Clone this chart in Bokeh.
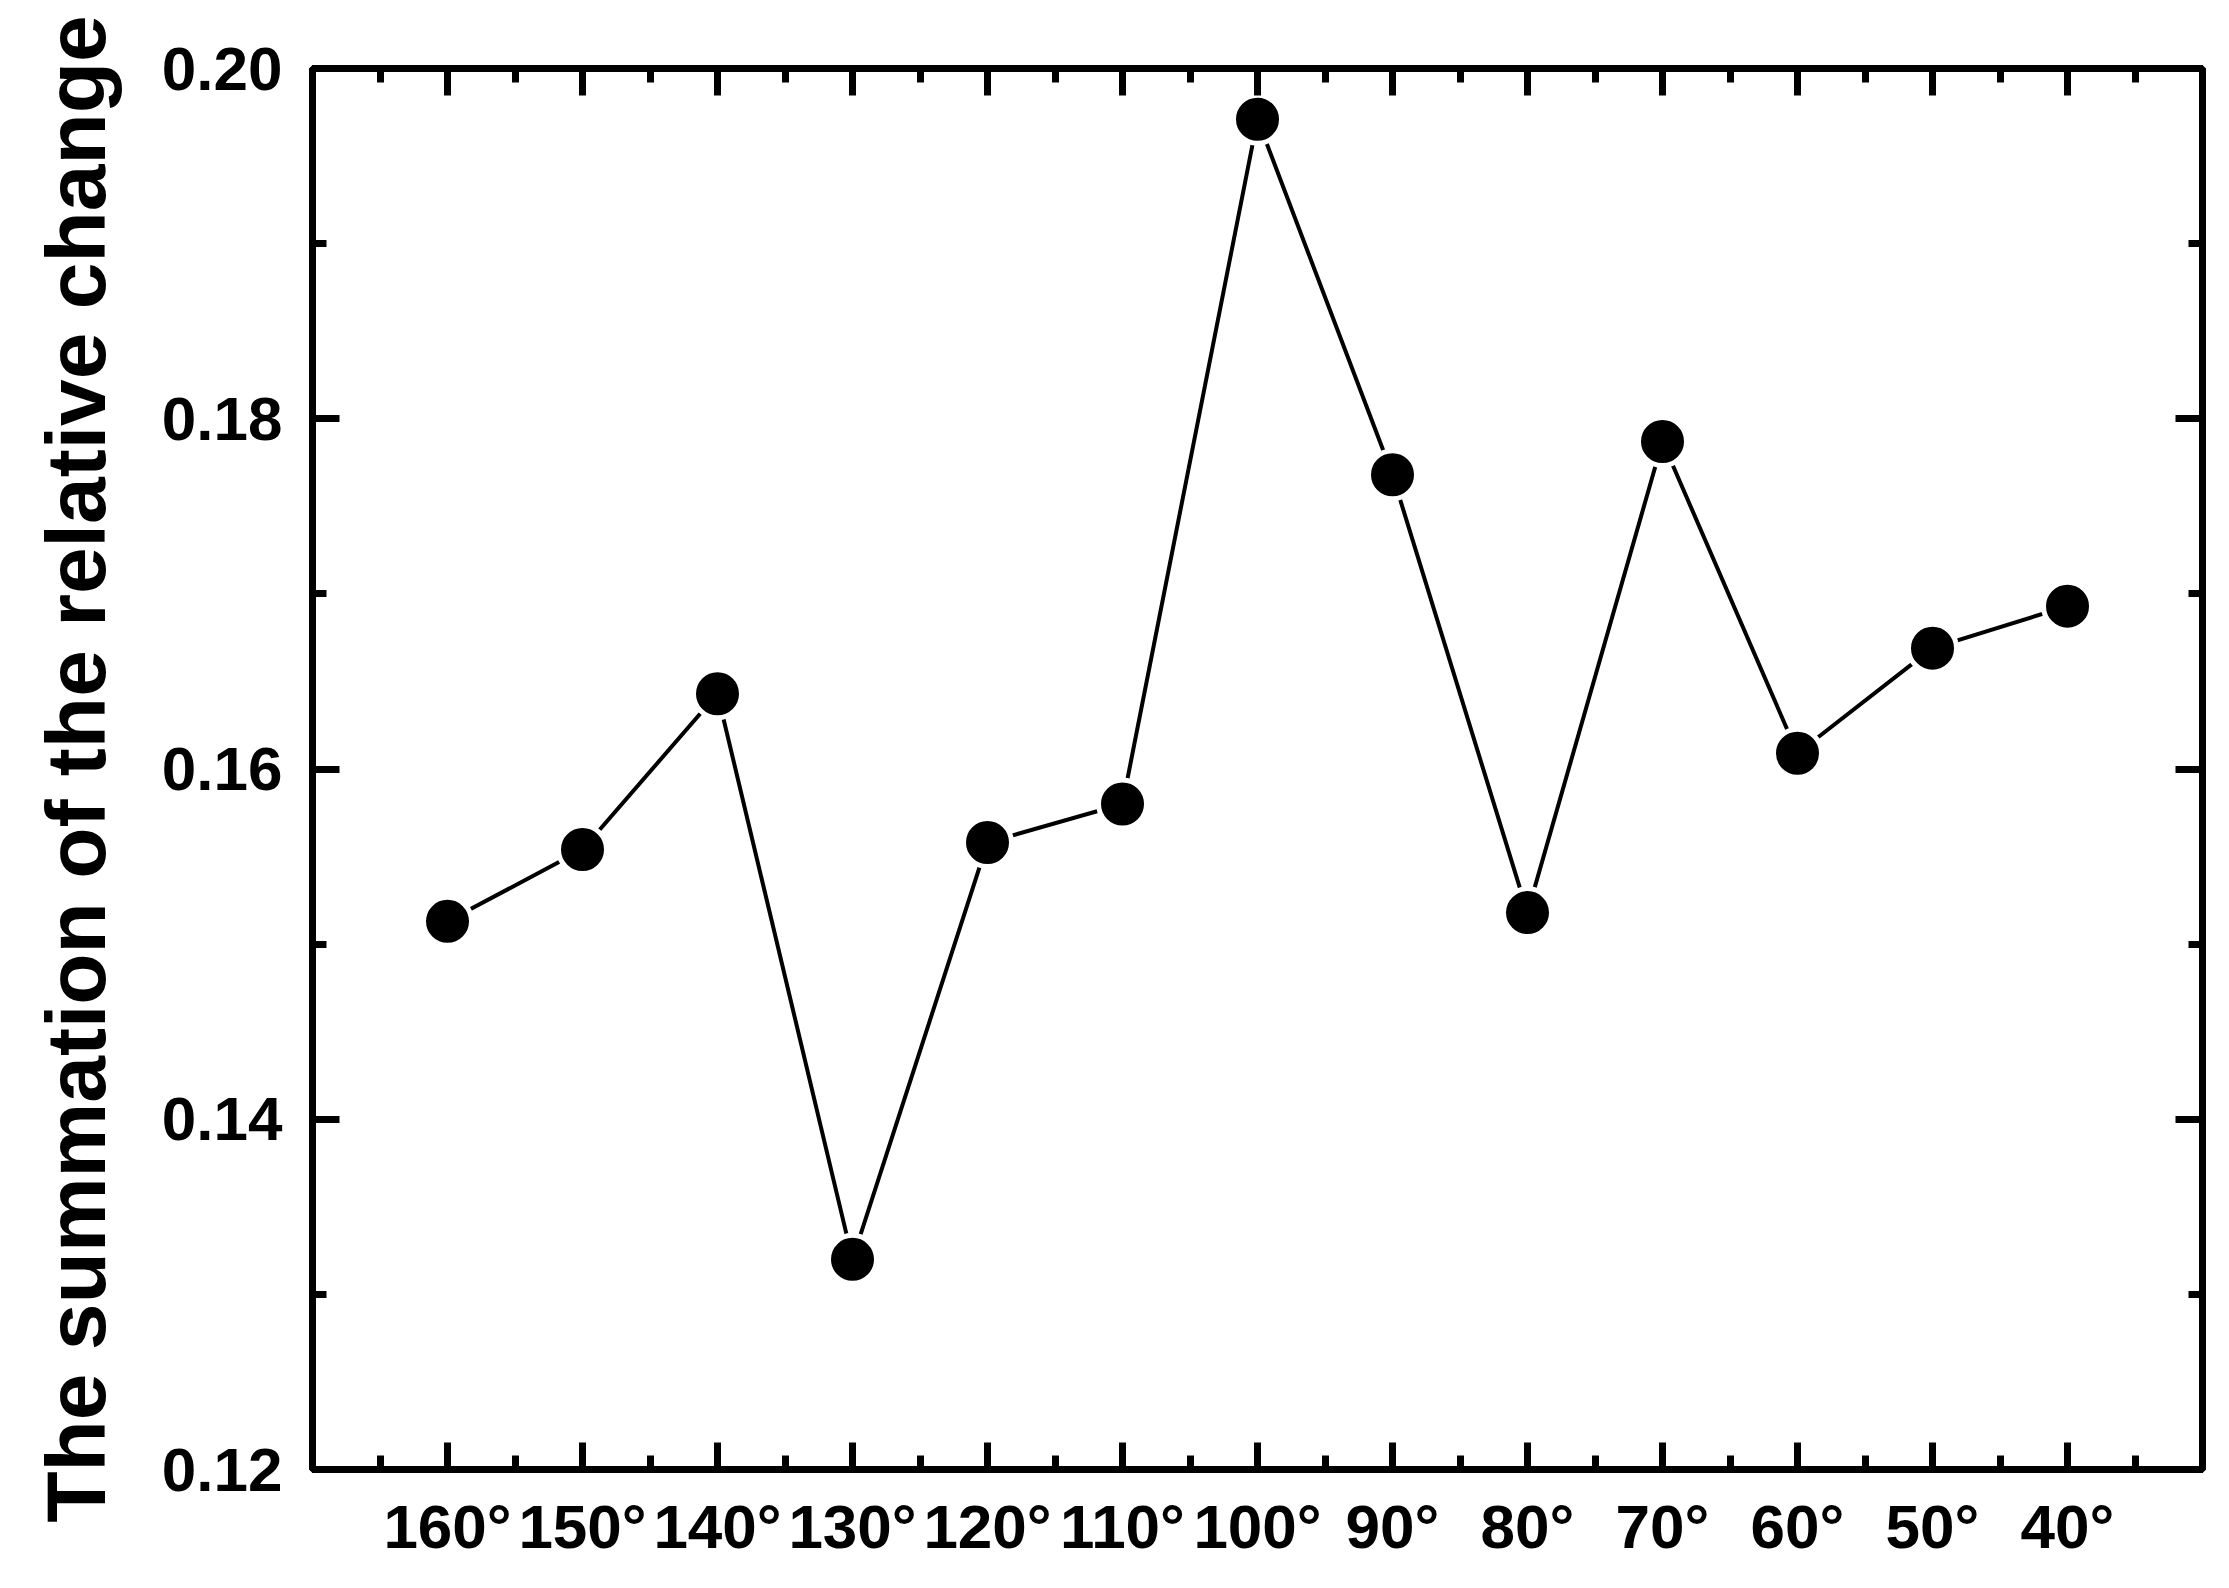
from bokeh.plotting import figure
from bokeh.models import FixedTicker, LinearAxis, Range1d, CustomJSTickFormatter, ColumnDataSource
from bokeh.embed import file_html
from bokeh.resources import INLINE

# Data
angles = ["160°", "150°", "140°", "130°", "120°", "110°", "100°", "90°", "80°", "70°", "60°", "50°", "40°"]
values = [0.1513, 0.1554, 0.1643, 0.1320, 0.1558, 0.1580, 0.1971, 0.1768, 0.1518, 0.1787, 0.1609, 0.1669, 0.1693]
y_major = [0.12, 0.14, 0.16, 0.18, 0.20]
y_minor = [0.13, 0.15, 0.17, 0.19]
y_title = "The summation of the relative change"

xpos = list(range(len(angles)))
x_minor = [i - 0.5 for i in range(len(angles) + 1)]

FONT = "Liberation Sans"
LW = 7

p = figure(width=2216, height=1572, output_backend="svg", toolbar_location=None,
           x_range=Range1d(-1, len(angles)), y_range=Range1d(0.12, 0.20),
           min_border_left=312, min_border_right=14, min_border_top=68, min_border_bottom=103,
           background_fill_color="white", border_fill_color="white")
p.grid.visible = False
p.outline_line_color = "black"
p.outline_line_width = LW

src = ColumnDataSource(dict(x=xpos, y=values))
p.line("x", "y", source=src, line_color="black", line_width=4)
p.scatter("x", "y", source=src, size=48, fill_color="black", line_color="white", line_width=5)

def style(ax, labels=True):
    ax.axis_line_width = LW
    ax.axis_line_color = "black"
    ax.major_tick_line_width = LW
    ax.minor_tick_line_width = LW
    ax.major_tick_in = 27
    ax.major_tick_out = 0
    ax.minor_tick_in = 14
    ax.minor_tick_out = 0
    ax.major_label_text_font = FONT
    ax.major_label_text_font_style = "bold"
    ax.major_label_text_font_size = "62px"
    ax.major_label_text_color = "black"
    if not labels:
        ax.formatter = CustomJSTickFormatter(code="return ''")

xt = FixedTicker(ticks=xpos, minor_ticks=x_minor)
yt = FixedTicker(ticks=y_major, minor_ticks=y_minor)

xa = p.xaxis[0]
xa.ticker = xt
xa.major_label_overrides = {i: a for i, a in enumerate(angles)}
style(xa)
xa.major_label_standoff = 22

ya = p.yaxis[0]
ya.ticker = yt
ya.major_label_overrides = {v: f"{v:.2f}" for v in y_major}
style(ya)
ya.major_label_standoff = 30
ya.axis_label = y_title
ya.axis_label_text_font = FONT
ya.axis_label_text_font_style = "bold"
ya.axis_label_text_font_size = "84px"
ya.axis_label_text_color = "black"
ya.axis_label_standoff = 36

ta = LinearAxis(ticker=FixedTicker(ticks=xpos, minor_ticks=x_minor))
style(ta, labels=False)
p.add_layout(ta, "above")
ra = LinearAxis(ticker=FixedTicker(ticks=y_major, minor_ticks=y_minor))
style(ra, labels=False)
p.add_layout(ra, "right")

open("out.html", "w").write(file_html(p, INLINE))
